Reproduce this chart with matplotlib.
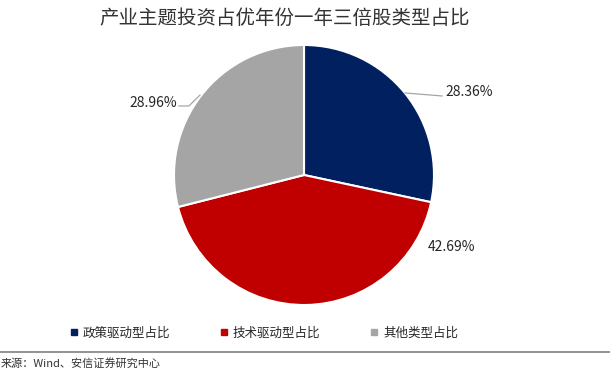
import matplotlib.pyplot as plt
from matplotlib.lines import Line2D

plt.rcParams['font.family'] = ['Noto Sans CJK SC', 'DejaVu Sans']

# 数据
categories = ['政策驱动型占比', '技术驱动型占比', '其他类型占比']
values = [28.36, 42.69, 28.96]
colors = ['#002060', '#C00000', '#A5A5A5']

fig = plt.figure(figsize=(6.1, 3.74), dpi=100)
W, H = 610, 374

# 饼图: 圆心约 (304,175), 半径约 130 像素
r = 130
ax = fig.add_axes([(304 - r) / W, 1 - (175 + r) / H, 2 * r / W, 2 * r / H])
wedges, _ = ax.pie(values, colors=colors, startangle=90, counterclock=False,
                   wedgeprops=dict(edgecolor='white', linewidth=1.5))
ax.set_xlim(-1, 1)
ax.set_ylim(-1, 1)
ax.set_aspect('equal')

# 百分比标签和引导线
ax.plot([0.777, 1.062], [0.631, 0.608], color='#A6A6A6', lw=0.9, clip_on=False)
ax.text(1.085, 0.638, f'{values[0]:.2f}%', fontsize=10, color='#262626',
        va='center', ha='left')
ax.text(0.954, -0.554, f'{values[1]:.2f}%', fontsize=10, color='#262626',
        va='center', ha='left')
ax.plot([-0.80, -0.885, -0.962], [0.615, 0.531, 0.531], color='#A6A6A6', lw=0.9,
        clip_on=False)
ax.text(-0.977, 0.554, f'{values[2]:.2f}%', fontsize=10, color='#262626',
        va='center', ha='right')

fig.text(285 / W, 1 - 18 / H, '产业主题投资占优年份一年三倍股类型占比',
         fontsize=14, color='#333333', ha='center', va='center')

# 图例
handles = [Line2D([0], [0], marker='s', color='w', markerfacecolor=c,
                  markeredgecolor=c, markersize=5) for c in colors]
fig.legend(handles, categories, loc='center', bbox_to_anchor=(263 / W, 1 - 333 / H),
           ncol=3, frameon=False, fontsize=9, handletextpad=0.2,
           columnspacing=3.8, handlelength=1.0, labelcolor='#262626')

# 底部分隔线与来源
fig.add_artist(Line2D([0, 1], [1 - 352 / H, 1 - 352 / H], color='#808080', lw=1.2))
fig.text(0.001, 1 - 363 / H, '来源：Wind、安信证券研究中心', fontsize=8,
         style='italic', color='#333333', ha='left', va='center')

fig.savefig('out.png', dpi=100)
